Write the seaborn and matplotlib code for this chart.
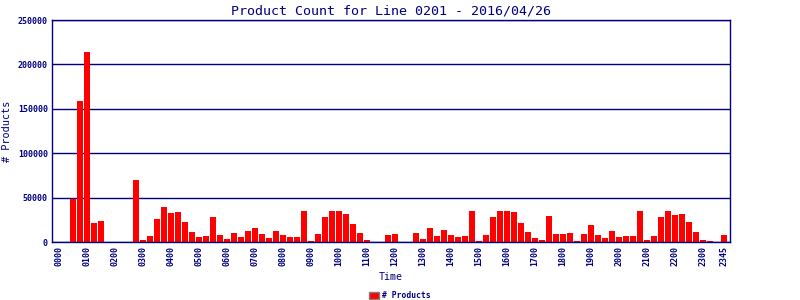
import matplotlib
matplotlib.use("Agg")
import matplotlib.pyplot as plt
import seaborn as sns
import pandas as pd
from matplotlib.patches import Patch

times = [f"{h:02d}{m:02d}" for h in range(24) for m in (0, 15, 30, 45)]
counts = [
    0, 0, 49000, 159400, 214300, 21700, 24000, 0,
    0, 0, 0, 70150, 2600, 7100, 26200, 39500,
    33000, 34100, 22900, 11600, 6000, 7100, 28500, 8200,
    3700, 10500, 6000, 12700, 16100, 9300, 4800, 12700,
    8200, 6000, 6000, 35200, 1500, 9300, 28500, 35200,
    35200, 31900, 20600, 10500, 2600, 0, 0, 8200,
    9300, 0, 0, 10500, 3700, 16100, 7100, 13900,
    8200, 6000, 7100, 35200, 1500, 8200, 28500, 35200,
    35200, 34100, 21700, 11600, 4800, 2600, 29600, 9300,
    9300, 10500, 1500, 9300, 19500, 8200, 4800, 12700,
    6000, 7100, 7100, 35200, 2600, 7100, 28500, 35200,
    30700, 31900, 22900, 11600, 2600, 1500, 0, 8200,
]
yticks = [0, 50000, 100000, 150000, 200000, 250000]
title = "Product Count for Line 0201 - 2016/04/26"
xlabel = "Time"
ylabel = "# Products"
legend_label = "# Products"

navy = "#000080"
sns.set_style("white")
plt.rcParams["font.family"] = ["DejaVu Sans Mono", "DejaVu Sans"]

df = pd.DataFrame({"time": times, "count": counts})

fig = plt.figure(figsize=(8, 3), dpi=100)
ax = fig.add_axes([0.065, 0.193, 0.8475, 0.74])
sns.barplot(data=df, x="time", y="count", color="#ff0000", saturation=1,
            width=0.857, ax=ax, zorder=3, edgecolor="none", linewidth=0)

ax.set_ylim(0, 250000)
ax.set_xlim(-1.0, 95.86)
ax.set_yticks(yticks)
ax.set_yticklabels([str(v) for v in yticks], fontsize=6, color=navy,
                   fontweight="bold")
tick_idx = list(range(0, 96, 4)) + [95]
ax.set_xticks(tick_idx)
ax.set_xticklabels([times[i] for i in tick_idx], rotation=90, fontsize=6,
                   color=navy, fontweight="bold")
ax.tick_params(axis="both", length=0, pad=3)
ax.grid(axis="y", color=navy, linewidth=1.0, zorder=1)
ax.set_axisbelow(True)
for s in ax.spines.values():
    s.set_color(navy)
    s.set_linewidth(1.0)
    s.set_zorder(4)

ax.set_title(title, fontsize=9.6, color=navy, pad=4)
ax.set_xlabel(xlabel, fontsize=7.2, color=navy, labelpad=4)
ax.set_ylabel(ylabel, fontsize=7.4, color=navy, labelpad=4)

handle = Patch(facecolor="#ff0000", edgecolor="#808080", linewidth=1)
fig.legend([handle], [legend_label], loc="center", bbox_to_anchor=(0.5, 0.015),
           frameon=False, prop={"weight": "bold", "size": 5.8},
           handlelength=1.3, handleheight=0.9, handletextpad=0.4,
           labelcolor=navy)

fig.savefig("out.png", dpi=100)
